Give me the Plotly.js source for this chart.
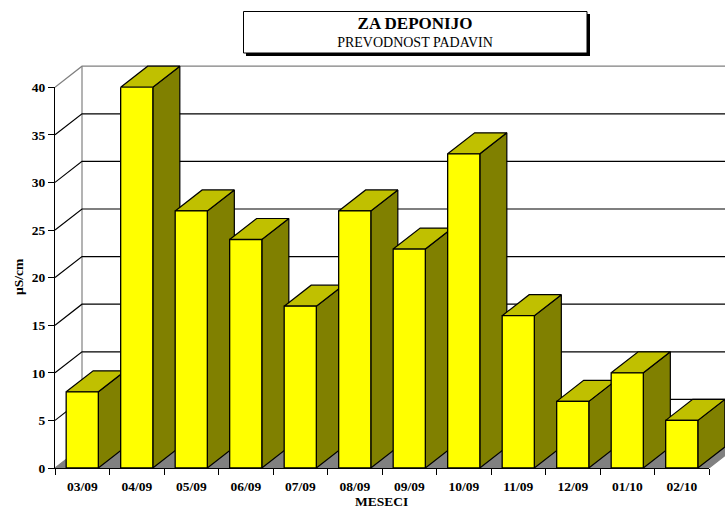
<!DOCTYPE html>
<html><head><meta charset="utf-8">
<script src="https://cdn.plot.ly/plotly-3.0.1.min.js"></script>
<style>html,body{margin:0;padding:0;background:#fff;overflow:hidden}</style>
</head><body><div id="chart" style="width:725px;height:509px"></div>
<script>
const categories = ['03/09','04/09','05/09','06/09','07/09','08/09','09/09','10/09','11/09','12/09','01/10','02/10'];
const values = [8,40,27,24,17,27,23,33,16,7,10,5];
const yTicks = [5,10,15,20,25,30,35];
const titleMain = 'ZA DEPONIJO';
const titleSub = 'PREVODNOST PADAVIN';
const xLabel = 'MESECI';
const yLabel = 'µS/cm';

const W = 725, H = 509, L = 55, T = 58, B = 41, R = 0;
const plotW = W-L-R, plotH = H-T-B;
const pxX = 54.5, pxY = 9.52;           // pixels per category / per unit
const dX = 27/pxX, dY = 21/pxY;         // oblique depth in data units
const barW = 0.59;
const font = 'Liberation Serif, Times New Roman, serif';
const BLACK = '#000', GRAY = '#808080';
const px = v => (v-L)/plotW, py = v => (H-B-v)/plotH;

const poly = (x,y,fill,line) => ({type:'scatter',mode:'lines',x,y,fill:'toself',fillcolor:fill,
  line:{color:line,width:1.2},hoverinfo:'skip',showlegend:false,xaxis:'x',yaxis:'y'});
const seg = (x,y,c) => ({type:'scatter',mode:'lines',x,y,line:{color:c,width:1.2},
  hoverinfo:'skip',showlegend:false,xaxis:'x',yaxis:'y'});

const n = categories.length;
const traces = [];
// floor
traces.push(poly([0,n,n+dX,dX,0],[0,0,dY,dY,0],GRAY,GRAY));
// walls
traces.push(seg([dX,dX],[dY,40+dY],GRAY));
traces.push(seg([0,dX,n+1],[40,40+dY,40+dY],GRAY));
yTicks.forEach(t => traces.push(seg([0,dX,n+1],[t,t+dY,t+dY],BLACK)));
// side and top faces of each bar
values.forEach((v,i) => {
  const a = i+0.5-barW/2, b = i+0.5+barW/2;
  traces.push(poly([b,b+dX,b+dX,b,b],[0,dY,v+dY,v,0],'#808000',BLACK));
  traces.push(poly([a,a+dX,b+dX,b,a],[v,v+dY,v+dY,v,v],'#C0C000',BLACK));
});
// front faces
traces.push({type:'bar',x:categories,y:values,xaxis:'x2',yaxis:'y2',cliponaxis:false,
  marker:{color:'#FFFF00',line:{color:BLACK,width:1.3}},showlegend:false,hoverinfo:'x+y'});

const tickFont = {family:font,size:13.5,color:'#000',weight:700};
const layout = {
  width:W,height:H,margin:{l:L,r:R,t:T,b:B,pad:0},
  paper_bgcolor:'#fff',plot_bgcolor:'rgba(0,0,0,0)',showlegend:false,bargap:0.41,
  font:{family:font,color:'#000'},
  title:{text:'<span style="font-size:17px"><b>'+titleMain+'</b></span><br><span style="font-size:14px">'+titleSub+'</span>',
    x:415/W,xanchor:'center',y:1-28.5/H,yanchor:'middle',font:{family:font,size:14,color:'#000'}},
  xaxis:{domain:[0,1],range:[0,plotW/pxX],visible:false,fixedrange:true},
  yaxis:{domain:[0,1],range:[0,plotH/pxY],visible:false,fixedrange:true},
  xaxis2:{type:'category',anchor:'y2',domain:[0,654/plotW],range:[-0.5,n-0.5],tickson:'boundaries',
    ticks:'outside',ticklen:6,tickwidth:1.2,tickcolor:BLACK,showline:true,linecolor:BLACK,linewidth:1.3,
    showgrid:false,zeroline:false,tickfont:tickFont,tickangle:0,ticklabelstandoff:6,fixedrange:true},
  yaxis2:{anchor:'x2',domain:[0,40*pxY/plotH],range:[0,40],tick0:0,dtick:5,ticks:'outside',ticklen:6,
    tickwidth:1.2,tickcolor:BLACK,showline:true,linecolor:BLACK,linewidth:1.3,showgrid:false,zeroline:false,
    tickfont:tickFont,fixedrange:true},
  shapes:[
    {type:'rect',xref:'paper',yref:'paper',x0:px(246),x1:px(590),y0:py(56),y1:py(14),fillcolor:'#000',line:{width:0}},
    {type:'rect',xref:'paper',yref:'paper',x0:px(243.5),x1:px(587),y0:py(53),y1:py(11.5),fillcolor:'#fff',line:{color:'#000',width:1}}
  ],
  annotations:[
    {text:'<b>'+xLabel+'</b>',xref:'paper',yref:'paper',x:px(381),y:py(501),showarrow:false,xanchor:'center',yanchor:'middle',
     font:{family:font,size:13.5,color:'#000'}},
    {text:'<b>'+yLabel+'</b>',xref:'paper',yref:'paper',x:px(18),y:py(277),textangle:-90,showarrow:false,xanchor:'center',yanchor:'middle',
     font:{family:font,size:13.5,color:'#000'}}
  ]
};
Plotly.newPlot('chart',traces,layout,{displayModeBar:false});
</script></body></html>
